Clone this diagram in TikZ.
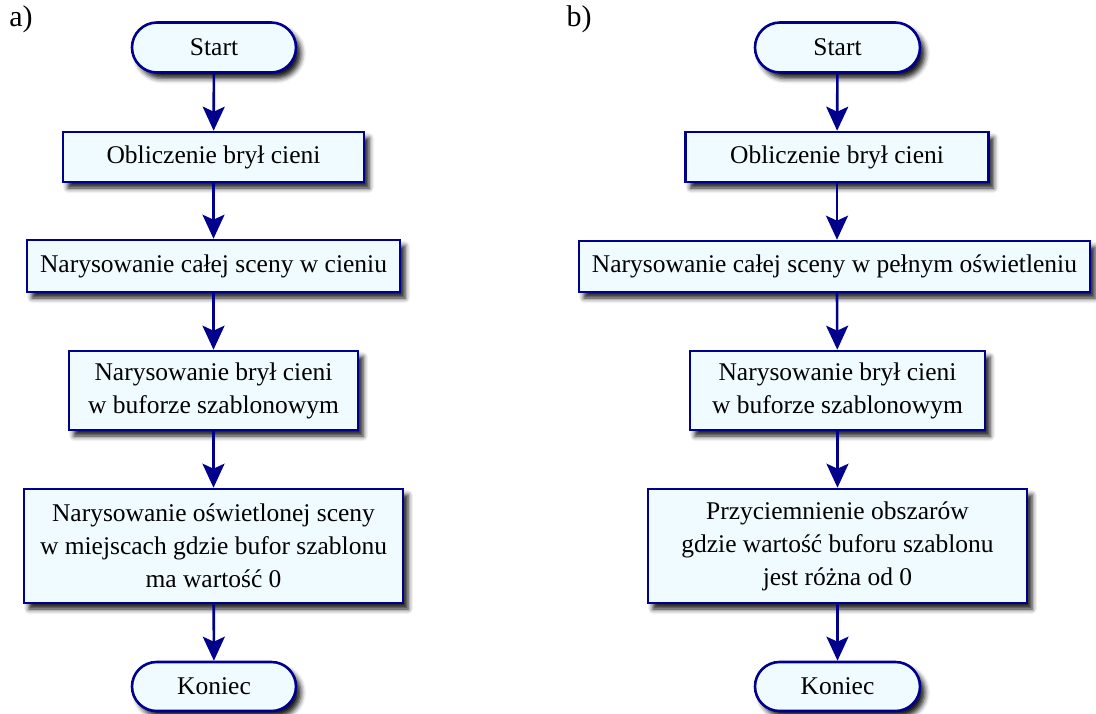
\documentclass[tikz,border=0pt]{standalone}
\usepackage{fontspec}
\setmainfont{Liberation Serif}
\usetikzlibrary{arrows.meta,shapes.misc,shadows.blur}
\definecolor{edge}{RGB}{0,0,140}
\definecolor{boxfill}{RGB}{240,251,255}
\tikzset{
  base/.style={draw=edge, line width=2.6pt, fill=boxfill, inner sep=0pt,
    align=center, font=\fontsize{25.5}{33}\selectfont,
    blur shadow={shadow xshift=5pt, shadow yshift=-6pt, shadow blur radius=5pt, shadow opacity=90}},
  proc/.style={base, rectangle},
  term/.style={base, rounded rectangle},
  flow/.style={draw=edge, line width=2.6pt,
    -{Stealth[length=24pt,width=22pt,inset=5pt]}},
  tag/.style={font=\fontsize{30}{34}\selectfont, inner sep=0pt}
}
\begin{document}
\begin{tikzpicture}[x=1pt,y=-1pt]
\useasboundingbox (0,0) rectangle (1096,713);

% column a)
\node[tag] (la) at (21,19) {a)};
\node[term, minimum width=164pt, minimum height=50pt] (as) at (214,47.5) {Start};
\node[proc, minimum width=301pt, minimum height=50pt] (a1) at (213.5,157) {Obliczenie brył cieni};
\node[proc, minimum width=373pt, minimum height=52pt] (a2) at (213.5,266) {Narysowanie całej sceny w cieniu};
\node[proc, minimum width=289pt, minimum height=79pt] (a3) at (213.5,390.5) {Narysowanie brył cieni\\w buforze szablonowym};
\node[proc, minimum width=379pt, minimum height=114pt] (a4) at (213.5,546) {Narysowanie oświetlonej sceny\\w miejscach gdzie bufor szablonu\\ma wartość 0};
\node[term, minimum width=164pt, minimum height=49pt] (ae) at (214,686.5) {Koniec};

\draw[flow] (as) -- (a1);
\draw[flow] (a1) -- (a2);
\draw[flow] (a2) -- (a3);
\draw[flow] (a3) -- (a4);
\draw[flow] (a4) -- (ae);

% column b)
\node[tag] (lb) at (579,19) {b)};
\node[term, minimum width=165pt, minimum height=50pt] (bs) at (837.5,47.5) {Start};
\node[proc, minimum width=303pt, minimum height=50pt] (b1) at (837,157) {Obliczenie brył cieni};
\node[proc, minimum width=511pt, minimum height=51pt] (b2) at (834.5,266.5) {Narysowanie całej sceny w pełnym oświetleniu};
\node[proc, minimum width=295pt, minimum height=79pt] (b3) at (837.5,390.5) {Narysowanie brył cieni\\w buforze szablonowym};
\node[proc, minimum width=379pt, minimum height=114pt] (b4) at (837.5,546) {Przyciemnienie obszarów\\gdzie wartość buforu szablonu\\jest różna od 0};
\node[term, minimum width=165pt, minimum height=49pt] (be) at (837.5,686.5) {Koniec};

\draw[flow] (bs) -- (b1);
\draw[flow] (b1) -- (b2.north -| b1);
\draw[flow] (b2.south -| b1) -- (b3);
\draw[flow] (b3) -- (b4);
\draw[flow] (b4) -- (be);
\end{tikzpicture}
\end{document}
